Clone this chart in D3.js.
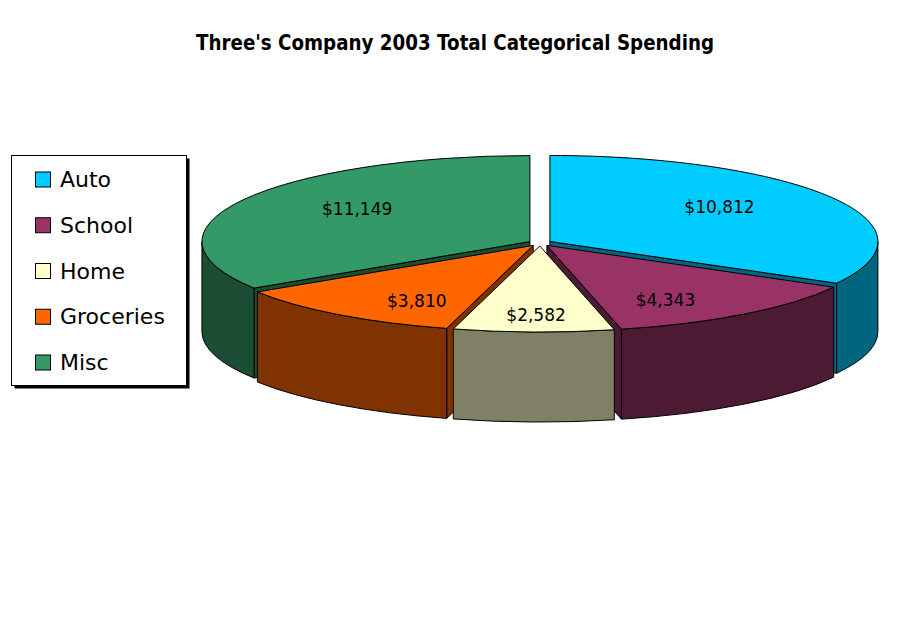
<!DOCTYPE html>
<html>
<head>
<meta charset="utf-8">
<script src="https://cdn.jsdelivr.net/npm/d3@7"></script>
<style>
  html, body { margin: 0; padding: 0; background: #fff; }
  svg { display: block; }
</style>
</head>
<body>
<div id="chart"></div>
<script>
// Three's Company 2003 spending, 3D exploded pie

const categories = ["Auto", "School", "Home", "Groceries", "Misc"];
const values = [10812, 4343, 2582, 3810, 11149];
const topColors = ["#00CCFF", "#993366", "#FFFFCC", "#FF6600", "#339966"];
const sideColors = ["#006680", "#4D1A33", "#808066", "#803300", "#1A4D33"];
const title = "Three's Company 2003 Total Categorical Spending";

const width = 911, height = 623;
const FONT = "'DejaVu Sans', sans-serif";

// pie geometry (ellipse of the top face)
const cx = 540, cy = 243, rx = 328, ry = 86, depth = 90;
const explode = 0.035;

const svg = d3.select("#chart").append("svg")
  .attr("width", width)
  .attr("height", height);

svg.append("rect").attr("width", width).attr("height", height).attr("fill", "#fff");

// title
svg.append("text")
  .attr("x", 455)
  .attr("y", 50)
  .attr("text-anchor", "middle")
  .attr("font-family", FONT)
  .attr("font-weight", "bold")
  .attr("font-size", 22)
  .attr("textLength", 518)
  .attr("lengthAdjust", "spacingAndGlyphs")
  .text(title);

const arcs = d3.pie().sort(null).value(d => d)(values)
  .map((a, i) => {
    const mid = (a.startAngle + a.endAngle) / 2;
    return {
      ...a, i, mid,
      dx: explode * rx * Math.sin(mid),
      dy: -explode * ry * Math.cos(mid)
    };
  });

// point on the slice rim (r = 1) or centre (r = 0), z = drop for the bottom face
function pt(s, a, r, z) {
  return [cx + s.dx + r * rx * Math.sin(a), cy + s.dy - r * ry * Math.cos(a) + (z || 0)];
}

function radialFace(s, a) {
  const p = [pt(s, a, 0), pt(s, a, 1), pt(s, a, 1, depth), pt(s, a, 0, depth)];
  return "M" + p.map(q => q.join(",")).join("L") + "Z";
}

function outerFace(s, a, b) {
  const large = (b - a) > Math.PI ? 1 : 0;
  const t0 = pt(s, a, 1), t1 = pt(s, b, 1);
  const b1 = pt(s, b, 1, depth), b0 = pt(s, a, 1, depth);
  return `M${t0}A${rx},${ry} 0 ${large} 1 ${t1}L${b1}A${rx},${ry} 0 ${large} 0 ${b0}Z`;
}

function topFace(s) {
  const large = (s.endAngle - s.startAngle) > Math.PI ? 1 : 0;
  const c = pt(s, 0, 0), t0 = pt(s, s.startAngle, 1), t1 = pt(s, s.endAngle, 1);
  return `M${c}L${t0}A${rx},${ry} 0 ${large} 1 ${t1}Z`;
}

// paint back slices first
const order = arcs.slice().sort((a, b) => Math.cos(b.mid) - Math.cos(a.mid));

const pieG = svg.append("g")
  .attr("stroke", "#000")
  .attr("stroke-width", 1)
  .attr("stroke-linejoin", "round");

order.forEach(s => {
  const g = pieG.append("g");
  // cut faces that point toward the viewer
  if (Math.sin(s.startAngle) < -1e-6) {
    g.append("path").attr("d", radialFace(s, s.startAngle)).attr("fill", sideColors[s.i]);
  }
  if (Math.sin(s.endAngle) > 1e-6) {
    g.append("path").attr("d", radialFace(s, s.endAngle)).attr("fill", sideColors[s.i]);
  }
  // curved outer wall, front half only
  const a = Math.max(s.startAngle, Math.PI / 2);
  const b = Math.min(s.endAngle, Math.PI * 1.5);
  if (a < b) {
    g.append("path").attr("d", outerFace(s, a, b)).attr("fill", sideColors[s.i]);
  }
  g.append("path").attr("d", topFace(s)).attr("fill", topColors[s.i]);
});

// value labels
const fmt = d3.format("$,");
svg.append("g")
  .selectAll("text")
  .data(arcs)
  .join("text")
  .attr("x", s => cx + s.dx + 0.6 * rx * Math.sin(s.mid))
  .attr("y", s => cy + s.dy - 0.8 * ry * Math.cos(s.mid))
  .attr("text-anchor", "middle")
  .attr("dominant-baseline", "central")
  .attr("font-family", FONT)
  .attr("font-size", 17)
  .text(d => fmt(d.value));

// legend
const legend = svg.append("g");
legend.append("rect")
  .attr("x", 14.5).attr("y", 158.5)
  .attr("width", 175).attr("height", 230)
  .attr("fill", "#000");
legend.append("rect")
  .attr("x", 11.5).attr("y", 155.5)
  .attr("width", 175).attr("height", 230)
  .attr("fill", "#fff")
  .attr("stroke", "#000");

const rowY = d3.scalePoint().domain(categories).range([179.5, 362.5]);

const rows = legend.selectAll("g.row")
  .data(categories)
  .join("g")
  .attr("class", "row")
  .attr("transform", d => `translate(0,${rowY(d)})`);

rows.append("rect")
  .attr("x", 35.5).attr("y", -7.5)
  .attr("width", 15).attr("height", 15)
  .attr("fill", (d, i) => topColors[i])
  .attr("stroke", "#000");

rows.append("text")
  .attr("x", 60)
  .attr("y", 0)
  .attr("dominant-baseline", "central")
  .attr("font-family", FONT)
  .attr("font-size", 22)
  .text(d => d);
</script>
</body>
</html>
